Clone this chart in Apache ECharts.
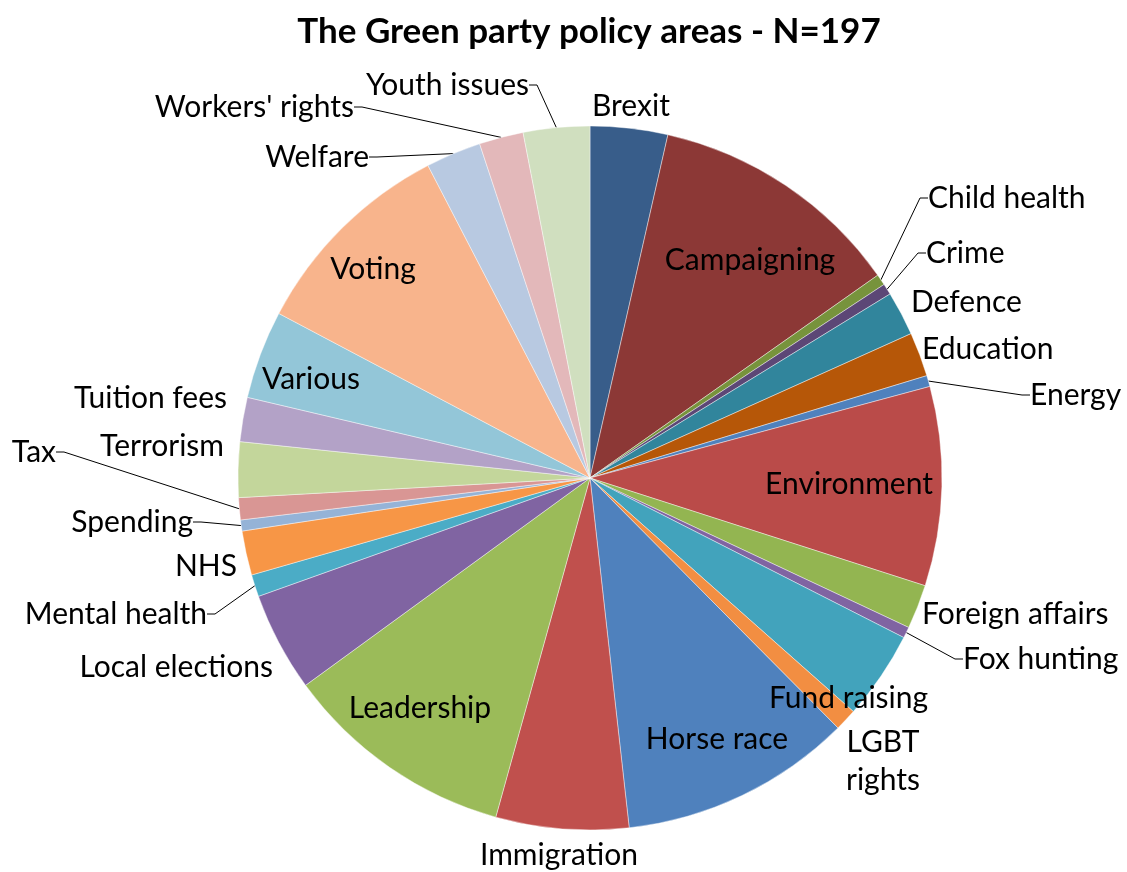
<!DOCTYPE html>
<html>
<head>
<meta charset="utf-8">
<script src="https://cdn.jsdelivr.net/npm/echarts@6/dist/echarts.min.js"></script>
<style>
  html, body { margin: 0; padding: 0; background: #ffffff; }
  #chart { width: 1127px; height: 872px; }
</style>
</head>
<body>
<div id="chart"></div>
<script>
// ---- data (N = 197) ----
const categories = ['Brexit', 'Campaigning', 'Child health', 'Crime', 'Defence', 'Education', 'Energy',
  'Environment', 'Foreign affairs', 'Fox hunting', 'Fund raising', 'LGBT rights', 'Horse race',
  'Immigration', 'Leadership', 'Local elections', 'Mental health', 'NHS', 'Spending', 'Tax',
  'Terrorism', 'Tuition fees', 'Various', 'Voting', 'Welfare', "Workers' rights", 'Youth issues'];
const values = [7, 23, 1, 1, 4, 4, 1, 18, 4, 1, 8, 2, 21, 12, 21, 9, 2, 4, 1, 2, 5, 4, 8, 19, 5, 4, 6];
const titleText = 'The Green party policy areas - N=197';

// ---- styles ----
const colors = ['#385D8A', '#8C3836', '#77933C', '#5C4776', '#31859C', '#B65708', '#4F81BD',
  '#BA4B49', '#93B551', '#8064A2', '#42A3BC', '#F28E42', '#4F81BD', '#C0504D', '#9BBB59',
  '#8064A2', '#4BACC6', '#F79646', '#95B3D7', '#D99694', '#C3D69B', '#B3A2C7', '#93C6D8',
  '#F8B48C', '#B8C9E1', '#E3B8BA', '#D0DFBF'];

// label placement (text anchor, alignment, whether a leader line is drawn)
const labelPlacement = {
  'Brexit':          { x: 592, y: 106, align: 'left' },
  'Campaigning':     { x: 750, y: 260, align: 'center' },
  'Child health':    { x: 928, y: 198, align: 'left', line: true },
  'Crime':           { x: 926, y: 253, align: 'left', line: true },
  'Defence':         { x: 911, y: 302, align: 'left' },
  'Education':       { x: 922, y: 349, align: 'left' },
  'Energy':          { x: 1030, y: 395, align: 'left', line: true },
  'Environment':     { x: 849, y: 484, align: 'center' },
  'Foreign affairs': { x: 922, y: 614, align: 'left' },
  'Fox hunting':     { x: 963, y: 659, align: 'left', line: true },
  'Fund raising':    { x: 769, y: 698, align: 'left' },
  'LGBT rights':     { x: 883, y: 761, align: 'center' },
  'Horse race':      { x: 717, y: 739, align: 'center' },
  'Immigration':     { x: 559, y: 855, align: 'center' },
  'Leadership':      { x: 420, y: 708, align: 'center' },
  'Local elections': { x: 273, y: 667, align: 'right' },
  'Mental health':   { x: 207, y: 614, align: 'right', line: true },
  'NHS':             { x: 237, y: 566, align: 'right' },
  'Spending':        { x: 193, y: 522, align: 'right', line: true },
  'Tax':             { x: 56, y: 452, align: 'right', line: true },
  'Terrorism':       { x: 224, y: 446, align: 'right' },
  'Tuition fees':    { x: 227, y: 398, align: 'right' },
  'Various':         { x: 311, y: 379, align: 'center' },
  'Voting':          { x: 373, y: 269, align: 'center' },
  'Welfare':         { x: 369, y: 157, align: 'right', line: true },
  "Workers' rights": { x: 354, y: 107, align: 'right', line: true },
  'Youth issues':    { x: 529, y: 85, align: 'right', line: true }
};
const labelText = { 'LGBT rights': 'LGBT\nrights' };

const FONT = 'Lato, Carlito, Calibri, "Open Sans", sans-serif';

const chart = echarts.init(document.getElementById('chart'), null, { renderer: 'canvas' });

const seriesData = categories.map((name, i) => ({
  name: name,
  value: values[i],
  itemStyle: { color: colors[i] },
  labelLine: { show: !!labelPlacement[name].line }
}));

chart.setOption({
  backgroundColor: '#ffffff',
  animation: false,
  title: {
    text: titleText,
    left: 584,
    top: 9,
    textAlign: 'center',
    textStyle: { fontFamily: FONT, fontWeight: 'bold', fontSize: 35, color: '#000000' }
  },
  series: [{
    type: 'pie',
    center: [590, 478],
    radius: 352,
    startAngle: 90,
    clockwise: true,
    avoidLabelOverlap: false,
    data: seriesData,
    itemStyle: { borderColor: 'rgba(255,255,255,0.7)', borderWidth: 0.6 },
    label: {
      show: true,
      position: 'outside',
      fontFamily: FONT,
      fontSize: 30,
      lineHeight: 38,
      color: '#000000',
      formatter: p => labelText[p.name] || p.name
    },
    labelLine: {
      show: true,
      length: 10,
      length2: 8,
      smooth: false,
      lineStyle: { color: '#000000', width: 1 }
    },
    labelLayout: function (params) {
      const pl = labelPlacement[categories[params.dataIndex]];
      return { x: pl.x, y: pl.y, align: pl.align, verticalAlign: 'middle' };
    },
    emphasis: { disabled: true }
  }]
});
</script>
</body>
</html>
